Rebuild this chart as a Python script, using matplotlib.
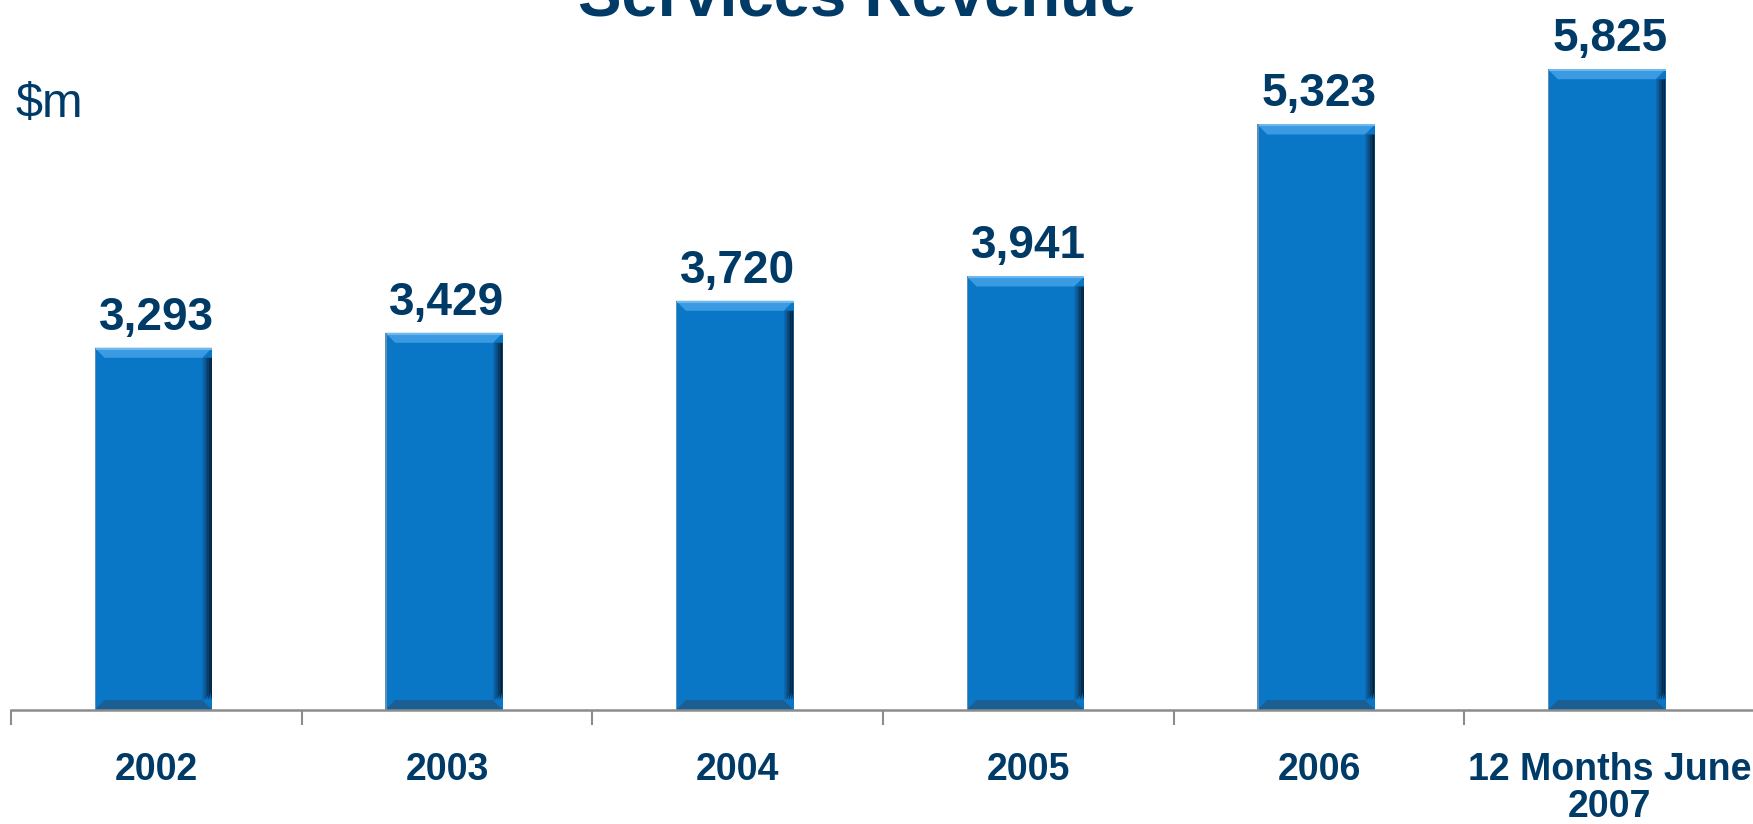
import numpy as np
import matplotlib.pyplot as plt
from matplotlib.patches import Polygon

plt.rcParams['font.family'] = ['Liberation Sans', 'DejaVu Sans']

categories = ['2002', '2003', '2004', '2005', '2006', '12 Months June\n2007']
revenue = [3293, 3429, 3720, 3941, 5323, 5825]

navy = '#003A66'
bar_blue = '#0A76C6'
axis_grey = '#8C8C8C'

W, H = 1753, 824
fig = plt.figure(figsize=(W / 100, H / 100), dpi=100)
ax = fig.add_axes([11 / W, 114 / H, 1744 / W, 660 / H])

x = np.arange(len(categories))
bars = ax.bar(x - 0.01, revenue, width=0.405, color=bar_blue, zorder=2)
ax.set_xlim(-0.5, len(categories) - 0.5)
ax.set_ylim(0, 6000)

# bevel on each bar: light top, dark bottom, shaded right edge
px_x = (ax.get_xlim()[1] - ax.get_xlim()[0]) / 1744
px_y = (ax.get_ylim()[1] - ax.get_ylim()[0]) / 660
bev = 10
for b in bars:
    x0, w, h = b.get_x(), b.get_width(), b.get_height()
    x1 = x0 + w
    bx, by = bev * px_x, bev * px_y
    ax.add_patch(Polygon([(x0, h), (x1, h), (x1 - bx, h - by), (x0 + bx, h - by)],
                         closed=True, color='#3A9BE3', lw=0, zorder=3))
    ax.add_patch(Polygon([(x0, h - 2 * px_y), (x1, h - 2 * px_y), (x1, h), (x0, h)],
                         closed=True, color='#6FB8EE', lw=0, zorder=3))
    ax.add_patch(Polygon([(x0, 0), (x1, 0), (x1 - bx, by), (x0 + bx, by)],
                         closed=True, color='#1B5E93', lw=0, zorder=3))
    shades = ['#0A6AB2', '#0A5A98', '#0A4A7E', '#083A63', '#062B49', '#041E33']
    sw = 1.6 * px_x
    for i, c in enumerate(shades):
        xs = x1 - bx + i * sw
        ax.add_patch(Polygon([(xs, by + (i * sw / px_x) * px_y), (xs + sw, by),
                              (xs + sw, h - by), (xs, h - by)],
                             closed=True, color=c, lw=0, zorder=4))
    ax.add_patch(Polygon([(x0, 0), (x0 + 1.5 * px_x, 0), (x0 + 1.5 * px_x, h), (x0, h)],
                         closed=True, color='#5E8FB8', lw=0, zorder=4))

for xi, v in zip(x, revenue):
    ax.annotate(f'{v:,}', (xi, v), xytext=(0, 13), textcoords='offset points',
                ha='center', va='baseline', fontsize=33, fontweight='bold', color=navy)

for s in ['top', 'left', 'right']:
    ax.spines[s].set_visible(False)
ax.spines['bottom'].set_color(axis_grey)
ax.spines['bottom'].set_linewidth(1.8)
ax.spines['bottom'].set_zorder(5)

ax.set_yticks([])
ax.set_xticks(x)
ax.set_xticklabels(categories, fontsize=27, fontweight='bold', color=navy, linespacing=1.05)
ax.set_xticks(np.arange(-0.5, len(categories), 1), minor=True)
ax.tick_params(axis='x', which='major', length=0, pad=30)
ax.tick_params(axis='x', which='minor', length=10.5, width=1.5, color=axis_grey)

fig.text(0.489, 1 - 15 / H, 'Services Revenue', ha='center', va='baseline',
         fontsize=47, fontweight='bold', color=navy)
fig.text(16 / W, 1 - 105 / H, '$m', ha='left', va='center', fontsize=35, color=navy)

fig.savefig('out.png', dpi=100, facecolor='white')
